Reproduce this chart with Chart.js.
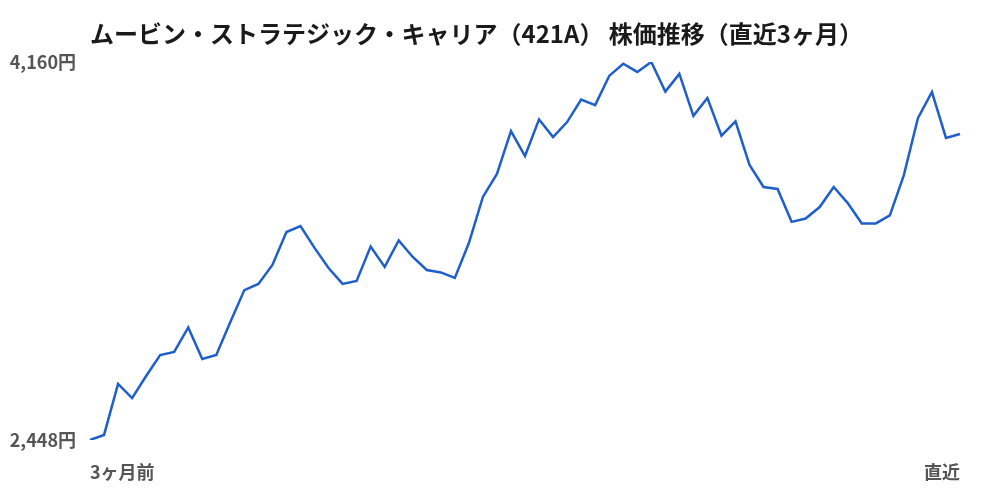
<!DOCTYPE html>
<html>
<head>
<meta charset="utf-8">
<script src="https://cdn.jsdelivr.net/npm/chart.js@4/dist/chart.umd.min.js"></script>
<style>
  html, body { margin: 0; padding: 0; background: #fff; }
  #wrap { width: 1000px; height: 500px; }
</style>
</head>
<body>
<div id="wrap"><canvas id="stockChart"></canvas></div>
<script>
// 株価データ（約3ヶ月分の終値、画像から読み取り）
const title = "ムービン・ストラテジック・キャリア（421A） 株価推移（直近3ヶ月）";
const prices = [
  2448, 2471, 2702, 2638, 2738, 2833, 2847, 2958, 2815, 2833,
  2982, 3127, 3155, 3241, 3390, 3417, 3318, 3227, 3155, 3168,
  3324, 3232, 3352, 3277, 3218, 3207, 3182, 3340, 3549, 3653,
  3847, 3734, 3900, 3820, 3888, 3990, 3965, 4097, 4152, 4115,
  4160, 4026, 4106, 3916, 3997, 3826, 3891, 3694, 3594, 3585,
  3436, 3451, 3503, 3594, 3521, 3429, 3429, 3465, 3648, 3906,
  4024, 3816, 3834
];
const startLabel = "3ヶ月前";
const endLabel = "直近";
const yTicks = [2448, 4160];

const days = prices.map((_, i) => i === 0 ? startLabel : (i === prices.length - 1 ? endLabel : ""));

const FONT = "'Noto Sans CJK JP', 'Noto Sans', sans-serif";

// タイトルはプロット領域の左端に揃えて描く
const titlePlugin = {
  id: "leftTitle",
  afterDraw(chart) {
    const c = chart.ctx;
    c.save();
    c.font = "bold 24px " + FONT;
    c.fillStyle = "#1a1a1a";
    c.textBaseline = "middle";
    c.textAlign = "left";
    c.fillText(title, chart.chartArea.left, 34);
    c.restore();
  }
};

new Chart(document.getElementById("stockChart"), {
  type: "line",
  data: {
    labels: days,
    datasets: [{
      data: prices,
      borderColor: "#1f5fcc",
      borderWidth: 2.5,
      pointRadius: 0,
      tension: 0,
      fill: false
    }]
  },
  options: {
    responsive: true,
    maintainAspectRatio: false,
    animation: false,
    layout: { padding: { top: 62, right: 40, bottom: 0, left: 0 } },
    plugins: {
      legend: { display: false },
      tooltip: { enabled: false }
    },
    scales: {
      x: {
        grid: { display: false, drawTicks: false },
        border: { display: false },
        ticks: {
          autoSkip: false,
          maxRotation: 0,
          align: "inner",
          padding: 21,
          color: "#555",
          font: { family: FONT, size: 18, weight: "bold" },
          callback: (v, i) => days[i] || null
        },
        afterFit: (s) => { s.height = 60; }
      },
      y: {
        min: yTicks[0],
        max: yTicks[1],
        grid: { display: false, drawTicks: false },
        border: { display: false },
        afterBuildTicks: (s) => { s.ticks = yTicks.map(v => ({ value: v })); },
        ticks: {
          padding: 14,
          color: "#555",
          font: { family: FONT, size: 18, weight: "bold" },
          callback: (v) => v.toLocaleString("ja-JP") + "円"
        },
        afterFit: (s) => { s.width = 90; }
      }
    }
  },
  plugins: [titlePlugin]
});
</script>
</body>
</html>
